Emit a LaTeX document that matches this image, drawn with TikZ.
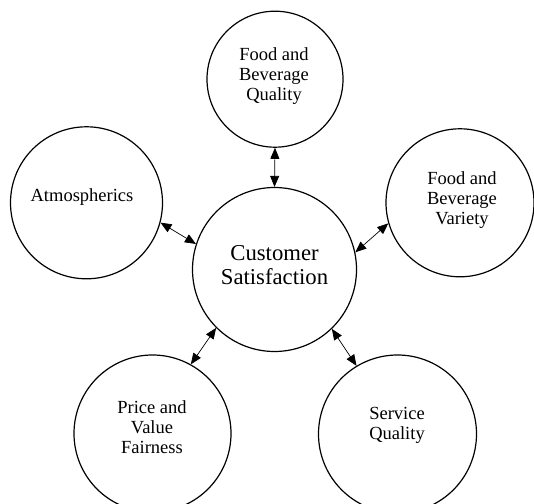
\documentclass[tikz,border=0pt]{standalone}
\usepackage{fontspec}
\setmainfont{Liberation Serif}
\usetikzlibrary{arrows.meta}
\begin{document}
\begin{tikzpicture}[x=1pt,y=1pt,
  ring/.style={circle,draw,line width=1.2pt,inner sep=0pt,minimum size=#1},
  lbl/.style={align=center,inner sep=0pt,font=\fontsize{18.5}{19.8}\selectfont},
  biglbl/.style={align=center,inner sep=0pt,font=\fontsize{22.7}{23.4}\selectfont},
  link/.style={line width=0.7pt,{Triangle[length=11pt,width=9pt]}-{Triangle[length=11pt,width=9pt]}}]
\useasboundingbox (0,0) rectangle (534,503);
\clip (0,0) rectangle (534,503);
% circles (y = 503 - image y)
\node[ring=136pt] (T) at (275,423.8) {};
\node[ring=152pt] (A) at (86.5,300.2) {};
\node[ring=148pt] (R) at (460,300.2) {};
\node[ring=164pt] (C) at (274.5,233.5) {};
\node[ring=157pt] (BL) at (152.5,69.5) {};
\node[ring=158pt] (BR) at (397.5,69) {};
% labels
\node[lbl] (tT) at (274,427) {Food and\\Beverage\\Quality};
\node[lbl] (tA) at (82,305.7) {Atmospherics};
\node[lbl] (tR) at (462,303) {Food and\\Beverage\\Variety};
\node[biglbl] (tC) at (274.5,238) {Customer\\Satisfaction};
\node[lbl] (tBL) at (152,76) {Price and\\Value\\Fairness};
\node[lbl] (tBR) at (397,77.5) {Service\\Quality};
% connectors
\draw[link] (T.south) -- (C.north);
\draw[link] (A.-15.5) -- (C.162.8);
\draw[link] (R.196) -- (C.12.7);
\draw[link] (C.225.1) -- (BL.61);
\draw[link] (C.314.9) -- (BR.121.3);
\end{tikzpicture}
\end{document}
